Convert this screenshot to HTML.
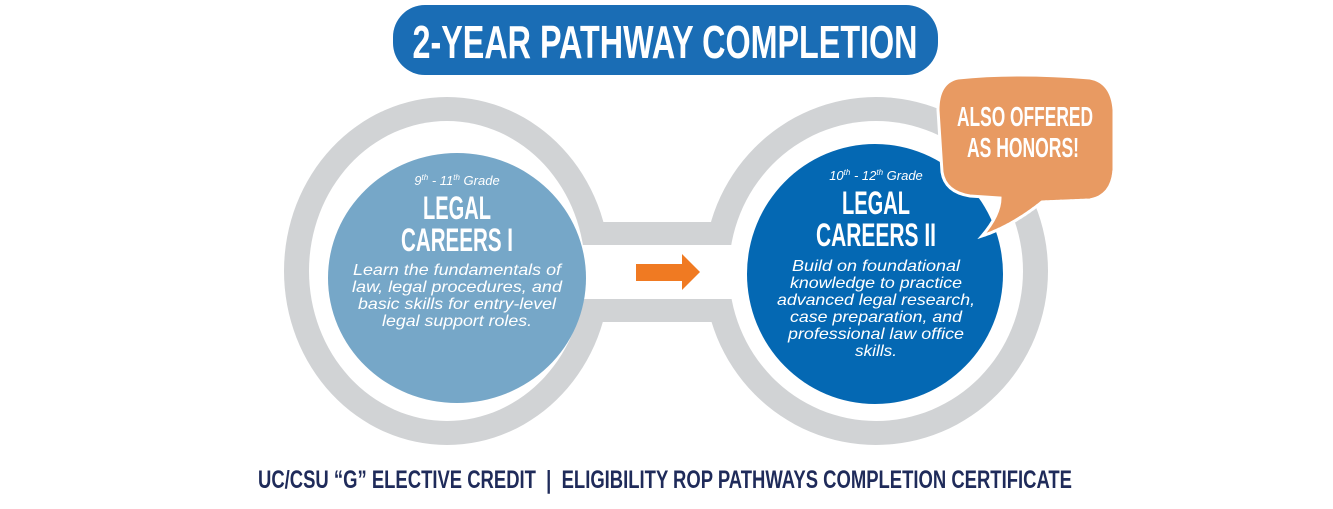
<!DOCTYPE html>
<html><head><meta charset="utf-8"><style>
html,body{margin:0;padding:0;background:#fff;}
svg{display:block;}
</style></head><body>
<svg width="1333" height="509" viewBox="0 0 1333 509" xmlns="http://www.w3.org/2000/svg" font-family="Liberation Sans, sans-serif">
  <!-- connector bar -->
  <rect x="590" y="222" width="140" height="100" fill="#d1d3d5"/>
  <!-- gray rings -->
  <ellipse cx="447" cy="271" rx="163" ry="174" fill="#d1d3d5"/>
  <ellipse cx="447" cy="271" rx="138" ry="150" fill="#fff"/>
  <ellipse cx="876" cy="271" rx="172" ry="174" fill="#d1d3d5"/>
  <ellipse cx="876" cy="271" rx="147" ry="150" fill="#fff"/>
  <rect x="580" y="245" width="160" height="54" fill="#fff"/>
  <!-- blue circles -->
  <ellipse cx="457" cy="278" rx="129" ry="125" fill="#76a7c8"/>
  <ellipse cx="875" cy="274" rx="128" ry="130" fill="#0468b3"/>
  <!-- arrow -->
  <polygon points="636,264 682,264 682,254 700,272 682,290 682,281 636,281" fill="#f07a22"/>
  <!-- title -->
  <rect x="393" y="5" width="545" height="70" rx="32" fill="#1a6db5"/>
  <text x="665" y="58" text-anchor="middle" font-size="46" font-weight="bold" fill="#fff" textLength="505" lengthAdjust="spacingAndGlyphs">2-YEAR PATHWAY COMPLETION</text>
  <!-- left text -->
  <text x="457" y="185" text-anchor="middle" font-size="13" font-style="italic" fill="#fff">9<tspan font-size="8" dy="-5">th</tspan><tspan dy="5"> - 11</tspan><tspan font-size="8" dy="-5">th</tspan><tspan dy="5">  Grade</tspan></text>
  <text x="457" y="219" text-anchor="middle" font-size="32" font-weight="bold" fill="#fff" textLength="68" lengthAdjust="spacingAndGlyphs">LEGAL</text>
  <text x="457" y="251" text-anchor="middle" font-size="32" font-weight="bold" fill="#fff" textLength="112" lengthAdjust="spacingAndGlyphs">CAREERS I</text>
  <g font-size="16" font-style="italic" fill="#fff" text-anchor="middle">
    <text x="457" y="275" textLength="208" lengthAdjust="spacingAndGlyphs">Learn the fundamentals of</text>
    <text x="457" y="292" textLength="210" lengthAdjust="spacingAndGlyphs">law, legal procedures, and</text>
    <text x="457" y="309" textLength="198" lengthAdjust="spacingAndGlyphs">basic skills for entry-level</text>
    <text x="457" y="326" textLength="150" lengthAdjust="spacingAndGlyphs">legal support roles.</text>
  </g>
  <!-- right text -->
  <text x="876" y="180" text-anchor="middle" font-size="13" font-style="italic" fill="#fff">10<tspan font-size="8" dy="-5">th</tspan><tspan dy="5"> - 12</tspan><tspan font-size="8" dy="-5">th</tspan><tspan dy="5"> Grade</tspan></text>
  <text x="876" y="214" text-anchor="middle" font-size="32" font-weight="bold" fill="#fff" textLength="68" lengthAdjust="spacingAndGlyphs">LEGAL</text>
  <text x="876" y="246" text-anchor="middle" font-size="32" font-weight="bold" fill="#fff" textLength="120" lengthAdjust="spacingAndGlyphs">CAREERS II</text>
  <g font-size="16" font-style="italic" fill="#fff" text-anchor="middle">
    <text x="876" y="271" textLength="168" lengthAdjust="spacingAndGlyphs">Build on foundational</text>
    <text x="876" y="288" textLength="172" lengthAdjust="spacingAndGlyphs">knowledge to practice</text>
    <text x="876" y="305" textLength="198" lengthAdjust="spacingAndGlyphs">advanced legal research,</text>
    <text x="876" y="322" textLength="172" lengthAdjust="spacingAndGlyphs">case preparation, and</text>
    <text x="876" y="339" textLength="176" lengthAdjust="spacingAndGlyphs">professional law office</text>
    <text x="876" y="356" textLength="42" lengthAdjust="spacingAndGlyphs">skills.</text>
  </g>
  <!-- speech bubble -->
  <path d="M958,78 Q1015,72 1090,78 Q1112,82 1114,110 L1114,170 Q1112,196 1090,200 L1042,202 Q1012,226 982,236 Q1000,215 1000,198 L970,196 Q945,192 942,172 L938,110 Q938,82 958,78 Z" fill="#e89a62" stroke="#fff" stroke-width="3"/>
  <path d="M1114,110 L1114,170 Q1112,196 1090,200 L1042,202 Q1012,226 982,236" fill="none" stroke="#fff" stroke-width="3" stroke-dasharray="2 3" opacity="0.8"/>
  <text x="1025" y="126" text-anchor="middle" font-size="28" font-weight="bold" fill="#fff" textLength="136" lengthAdjust="spacingAndGlyphs">ALSO OFFERED</text>
  <text x="1023" y="157" text-anchor="middle" font-size="28" font-weight="bold" fill="#fff" textLength="112" lengthAdjust="spacingAndGlyphs">AS HONORS!</text>
  <!-- bottom -->
  <text x="665" y="488" text-anchor="middle" font-size="25" font-weight="bold" fill="#1f2b5a" textLength="814" lengthAdjust="spacingAndGlyphs" xml:space="preserve">UC/CSU “G” ELECTIVE CREDIT  |  ELIGIBILITY ROP PATHWAYS COMPLETION CERTIFICATE</text>
</svg>
</body></html>
